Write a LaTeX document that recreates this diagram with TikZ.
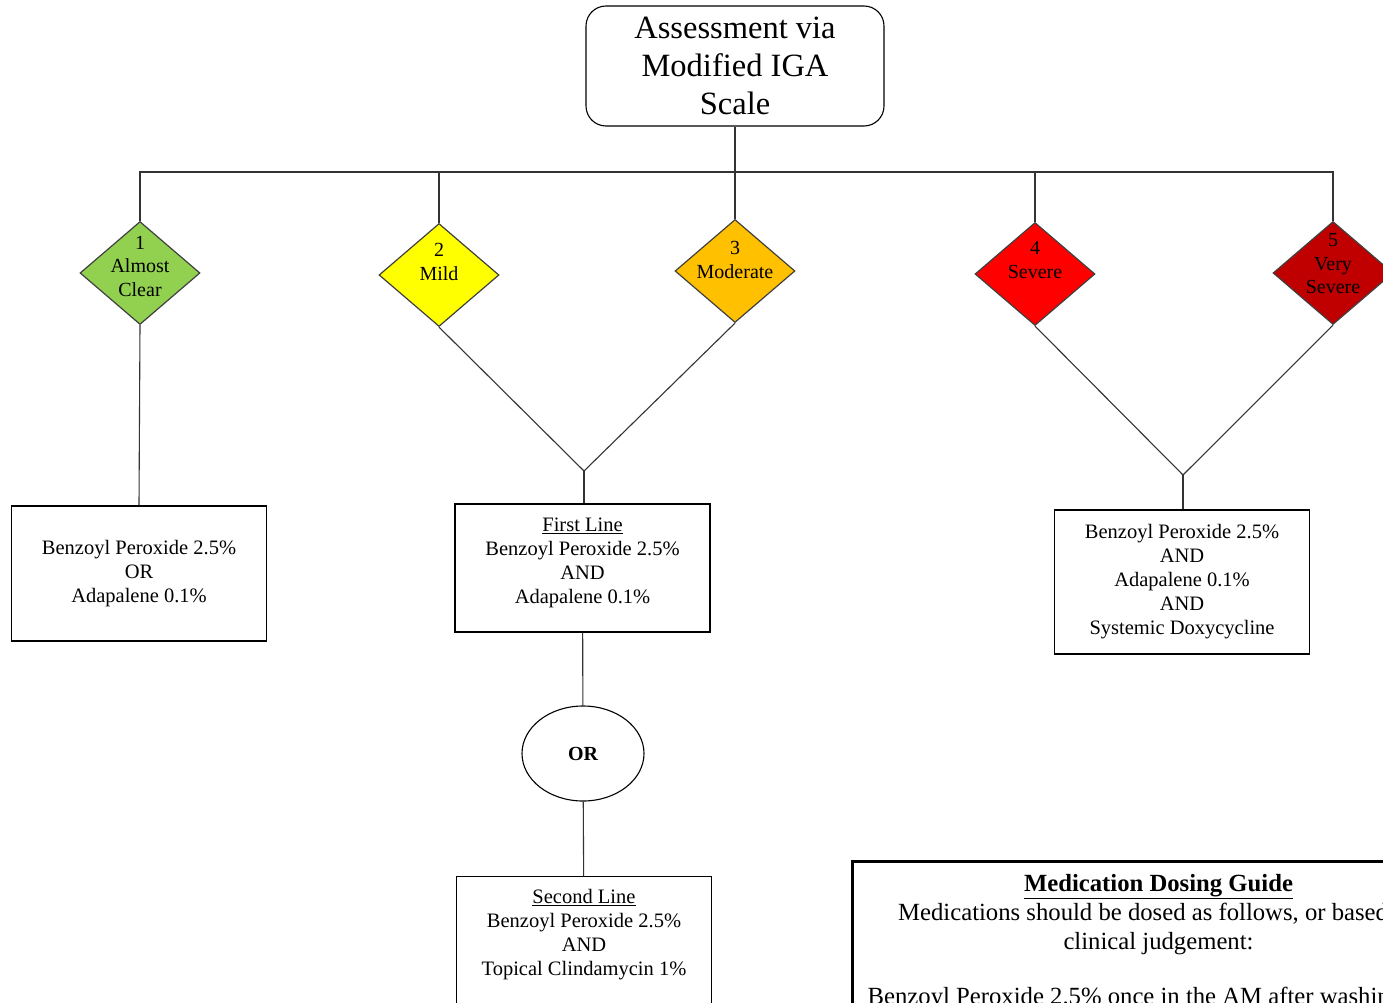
\documentclass[tikz,border=0pt]{standalone}
\usepackage{fontspec}
\setmainfont{Liberation Serif}
\usetikzlibrary{shapes.geometric}

\definecolor{gAlmost}{HTML}{92D050}
\definecolor{gMild}{HTML}{FFFF00}
\definecolor{gMod}{HTML}{FFC000}
\definecolor{gSev}{HTML}{FF0000}
\definecolor{gVery}{HTML}{C00000}

\tikzset{
  grade/.style={diamond, draw=black!75, line width=1.2pt, inner sep=0pt,
    minimum width=120pt, minimum height=103pt},
  gradetxt/.style={align=center, inner sep=0pt, font=\fontsize{20}{23.5}\selectfont},
  medbox/.style={draw, line width=1.1pt, minimum width=255pt, align=center,
    font=\fontsize{20.5}{24}\selectfont},
  link/.style={draw=black!80, line width=1.1pt},
}

\begin{document}
\begin{tikzpicture}[x=1pt,y=-1pt]
    \useasboundingbox (0,0) rectangle (1383,1003);
    \clip (0,0) rectangle (1383,1003);
%    \draw[step=100pt,gray!30,very thin] (0,0) grid (1383,1003);
    \node[draw, rounded corners=20pt, line width=1.1pt, minimum width=298pt, minimum height=120pt,
      align=center, font=\fontsize{32.5}{38}\selectfont] (iga) at (735,66) {Assessment via\\Modified IGA\\Scale};
    % the five grades
    \foreach \x/\y/\c/\n/\s/\t in {140/273/gAlmost/1/7/{1\\Almost\\Clear},
        439/275/gMild/2/13/{2\\Mild},
        735/271/gMod/3/11/{3\\Moderate},
        1035/274/gSev/4/14/{4\\Severe},
        1333/273/gVery/5/9/{5\\Very\\Severe}}
	   \node[grade, fill=\c, label={[gradetxt, yshift=\s pt]center:\t}] (d\n) at (\x,\y) {};
    % treatments
    \node[medbox, minimum height=135pt] (bpo) at (139,573.5) {Benzoyl Peroxide 2.5\%\\OR\\Adapalene 0.1\%};
    \node[medbox, minimum height=128pt, text depth=15pt] (first) at (582.5,568) {\underline{First Line}\\Benzoyl Peroxide 2.5\%\\AND\\Adapalene 0.1\%};
    \node[draw, ellipse, line width=1.1pt, minimum width=122pt, minimum height=95pt,
      font=\fontsize{20}{24}\selectfont\bfseries] (or) at (583,753.5) {OR};
    \node[medbox, minimum height=128pt, text depth=16pt, anchor=north] (second) at (584,876) {\underline{Second Line}\\Benzoyl Peroxide 2.5\%\\AND\\Topical Clindamycin 1\%};
    \node[medbox, minimum height=144pt] (triple) at (1182,582) {Benzoyl Peroxide 2.5\%\\AND\\Adapalene 0.1\%\\AND\\Systemic Doxycycline};
    \node[draw, line width=3pt, anchor=north west, minimum width=613pt, inner ysep=13pt, align=center,
      font=\fontsize{24.7}{29}\selectfont] (dose) at (850.5,860)
      {\textbf{\underline{Medication Dosing Guide}}\\Medications should be dosed as follows, or based on\\clinical judgement:\\[26pt]Benzoyl Peroxide 2.5\% once in the AM after washing face};
    % connectors
    \coordinate (bus) at (735,172);
    \coordinate (j1) at (584,471);
    \coordinate (j2) at (1183,475);
    \draw[link] (iga) -- (bus);
    \draw[link] (d1.north) |- (bus) -| (d5.north);
    \foreach \n in {2,3,4}
	    \draw[link] (d\n.north) -- (d\n.north |- bus);
    \draw[link] (d1.south) -- (bpo.north);
    \draw[link] (d2.south) -- (j1) -- (d3.south);
    \draw[link] (j1) -- (j1 |- first.north);
    \draw[link] (d4.south) -- (j2) -- (d5.south);
    \draw[link] (j2) -- (j2 |- triple.north);
    \draw[link] (first) -- (or);
    \draw[link] (or) -- (second);
\end{tikzpicture}
\end{document}
